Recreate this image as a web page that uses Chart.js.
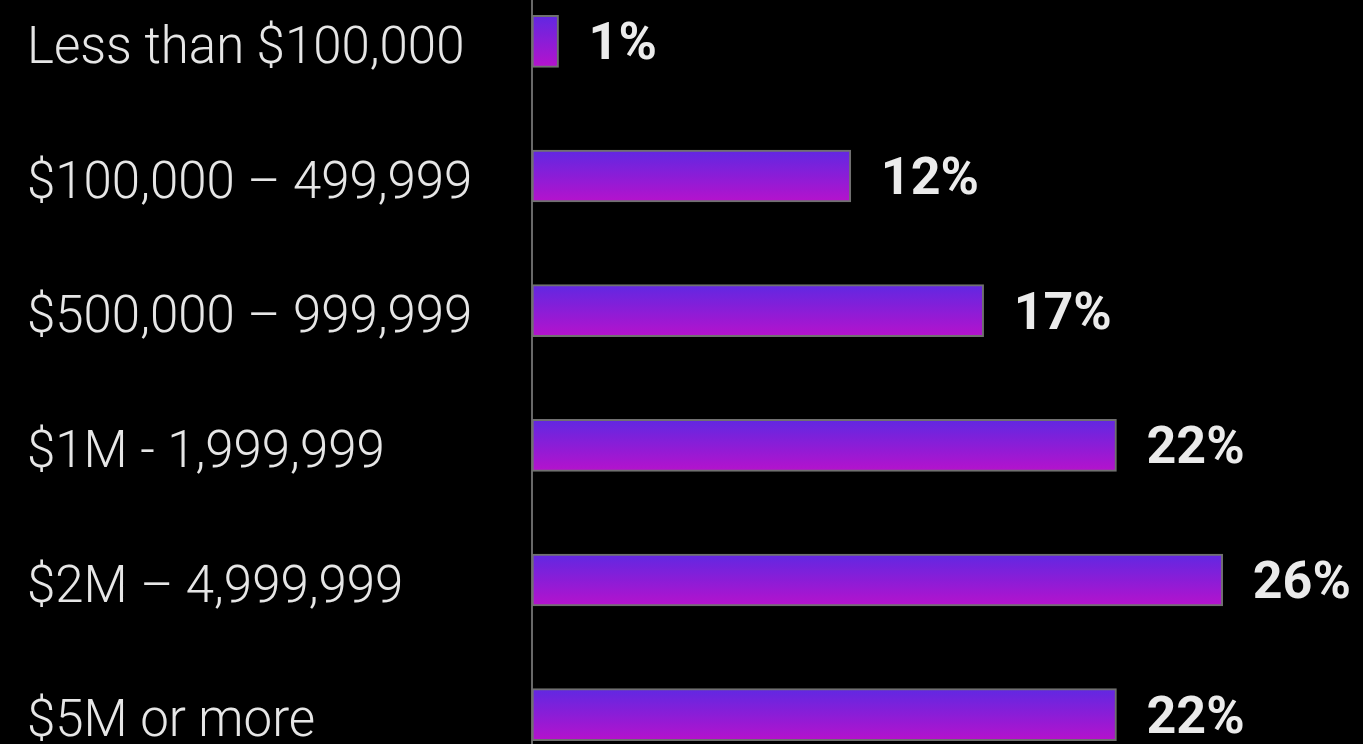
<!DOCTYPE html>
<html>
<head>
<meta charset="utf-8">
<script src="https://cdn.jsdelivr.net/npm/chart.js@4/dist/chart.umd.min.js"></script>
<style>
  html, body { margin: 0; padding: 0; background: #000; overflow: hidden; }
  #wrap { position: absolute; left: 0; top: -26px; width: 1363px; height: 808px; }
</style>
</head>
<body>
<div id="wrap"><canvas id="barChart"></canvas></div>
<script>
// net worth brackets and share of respondents (%)
const categories = [
    'Less than $100,000',
    '$100,000 – 499,999',
    '$500,000 – 999,999',
    '$1M - 1,999,999',
    '$2M – 4,999,999',
    '$5M or more'
];
const shares = [1, 12, 17, 22, 26, 22];

const BAR_THICKNESS = 52;

// value labels at the end of each bar
const valueLabels = {
    id: 'valueLabels',
    afterDatasetsDraw(chart) {
        const ctx = chart.ctx;
        const meta = chart.getDatasetMeta(0);
        ctx.save();
        ctx.font = 'bold 52px Roboto';
        ctx.fillStyle = '#ebebeb';
        ctx.textAlign = 'left';
        ctx.textBaseline = 'middle';
        meta.data.forEach((bar, i) => {
            ctx.fillText(`${shares[i]}%`, bar.x + 30, bar.y + 5);
        });
        ctx.restore();
    }
};

// vertical purple gradient, one per bar
function barGradient(context) {
    const chart = context.chart;
    const yScale = chart.scales.y;
    if (!yScale || context.dataIndex === undefined) return '#8a1dd6';
    const mid = yScale.getPixelForTick(context.dataIndex);
    const g = chart.ctx.createLinearGradient(0, mid - BAR_THICKNESS / 2, 0, mid + BAR_THICKNESS / 2);
    g.addColorStop(0, '#6028e2');
    g.addColorStop(1, '#b612cc');
    return g;
}

new Chart(document.getElementById('barChart'), {
    type: 'bar',
    plugins: [valueLabels],
    data: {
        labels: categories,
        datasets: [{
            data: shares,
            backgroundColor: barGradient,
            borderColor: '#707070',
            borderWidth: 2,
            borderSkipped: false,
            barThickness: BAR_THICKNESS
        }]
    },
    options: {
        indexAxis: 'y',
        responsive: true,
        maintainAspectRatio: false,
        animation: false,
        layout: {
            padding: { left: 27, right: 34, top: 0, bottom: 0 }
        },
        plugins: {
            legend: { display: false },
            tooltip: { enabled: false }
        },
        scales: {
            x: {
                display: false,
                min: 0,
                max: 30
            },
            y: {
                grid: { display: false },
                border: { display: true, color: '#686868', width: 2 },
                ticks: {
                    crossAlign: 'far',
                    color: '#e6e6e6',
                    padding: 0,
                    labelOffset: 9,
                    font: { family: 'Roboto', size: 51, weight: 300 }
                },
                afterFit(scale) {
                    scale.width = 505;
                    scale.paddingTop = 0;
                    scale.paddingBottom = 0;
                }
            }
        }
    }
});
</script>
</body>
</html>
